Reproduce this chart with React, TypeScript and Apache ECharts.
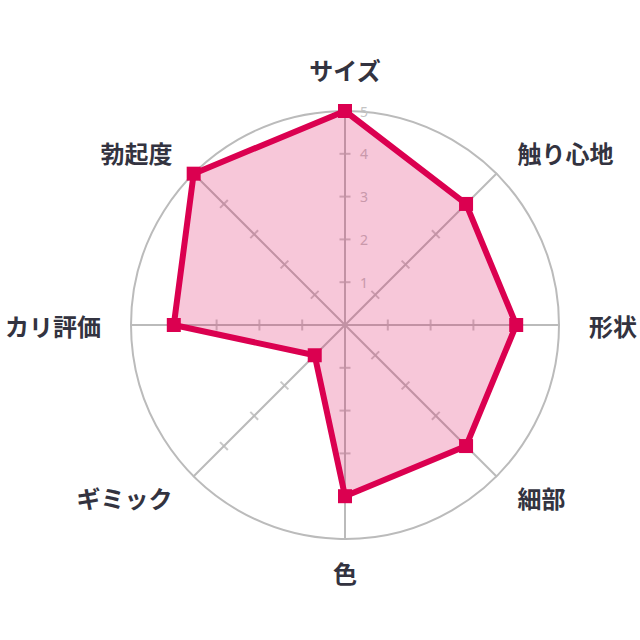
import { useEffect, useRef } from 'react';
import * as echarts from 'echarts';

// clockwise from the top
const categories = ['サイズ', '触り心地', '形状', '細部', '色', 'ギミック', 'カリ評価', '勃起度'];
const scores = [5, 4, 4, 4, 4, 1, 4, 5];
const maxScore = 5;
const tickValues = [1, 2, 3, 4];

const lineColor = '#db0050';
const gridColor = '#bbbbbb';

export default function App() {
  const chartRef = useRef<HTMLDivElement>(null);

  useEffect(() => {
    if (!chartRef.current) return;
    const chart = echarts.init(chartRef.current, null, { renderer: 'svg' });

    // echarts radar runs counter-clockwise, so keep the first item and reverse the rest
    const order = [0, ...categories.map((_, i) => i).slice(1).reverse()];
    const indicator = order.map((i) => ({ name: categories[i], max: maxScore }));
    const values = order.map((i) => scores[i]);

    // small crossing ticks on every spoke, placed on the polar axes
    const step = 360 / categories.length;
    const ticks: any[] = [];
    categories.forEach((_, i) => {
      tickValues.forEach((v) => {
        ticks.push({ value: [v, i * step], symbolRotate: -i * step });
      });
    });

    const center = [345, 325];
    const radius = 214;
    const nameFont = {
      color: '#333340',
      fontSize: 24,
      fontWeight: 'bold' as const,
      fontFamily: 'Noto Sans CJK JP',
    };

    const option: echarts.EChartsOption = {
      animation: false,
      backgroundColor: '#ffffff',
      radar: {
        center,
        radius,
        shape: 'circle',
        splitNumber: 5,
        indicator,
        nameGap: 30,
        axisName: {
          ...nameFont,
          // the bottom label sits a little closer to the circle
          formatter: (name?: string) => (name === categories[4] ? `{low|${name}}` : name ?? ''),
          rich: { low: { ...nameFont, lineHeight: 6 } },
        },
        axisLine: { lineStyle: { color: gridColor, width: 2 } },
        axisTick: { show: false },
        splitLine: { show: false },
        splitArea: { show: false },
      },
      polar: { center, radius },
      angleAxis: {
        type: 'value',
        min: 0,
        max: 360,
        startAngle: 90,
        clockwise: true,
        axisLine: { show: true, lineStyle: { color: gridColor, width: 2 } },
        axisTick: { show: false },
        axisLabel: { show: false },
        splitLine: { show: false },
      },
      radiusAxis: {
        type: 'value',
        min: 0,
        max: maxScore,
        interval: 1,
        axisLine: { show: false },
        axisTick: { show: false },
        splitLine: { show: false },
        axisLabel: {
          color: '#c4c4c4',
          fontSize: 14,
          fontFamily: 'Noto Sans',
          margin: -15,
          align: 'left',
          formatter: (v: number) => (v === 0 ? '' : String(v)),
        },
      },
      series: [
        {
          type: 'scatter',
          coordinateSystem: 'polar',
          data: ticks,
          symbol: 'rect',
          symbolSize: [11, 2],
          itemStyle: { color: gridColor },
          silent: true,
          z: 1,
        },
        {
          type: 'radar',
          data: [{ value: values }],
          symbol: 'rect',
          symbolSize: 14,
          itemStyle: { color: lineColor },
          lineStyle: { color: lineColor, width: 6 },
          areaStyle: { color: 'rgba(219, 0, 80, 0.22)', opacity: 1 },
          z: 3,
        },
      ],
    };

    chart.setOption(option);
    return () => chart.dispose();
  }, []);

  return (
    <div
      ref={chartRef}
      style={{ position: 'absolute', left: 0, top: 0, width: 640, height: 640 }}
    />
  );
}
